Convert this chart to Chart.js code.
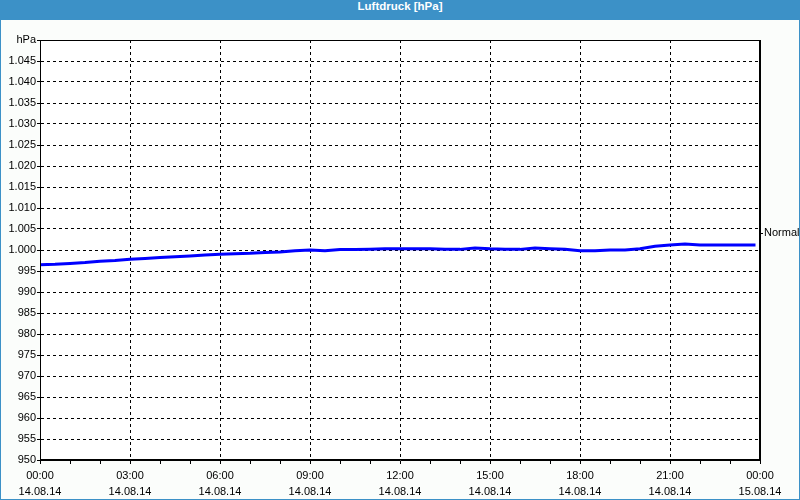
<!DOCTYPE html>
<html>
<head>
<meta charset="utf-8">
<script src="https://cdn.jsdelivr.net/npm/chart.js@4"></script>
<style>
  html, body { margin: 0; padding: 0; background: #fbfdfb; }
  #frame { position: relative; width: 798px; height: 479px; border: 1px solid #3c91c7; border-top: none; }
  #title { width: 800px; height: 20px; line-height: 20px; background: #3c91c7; color: #fff;
           font: bold 11.5px "Liberation Sans", sans-serif; text-align: center; }
  canvas { display: block; }
</style>
</head>
<body>
<div id="title">Luftdruck [hPa]</div>
<div id="frame"><canvas id="pressure-chart" width="798" height="479"></canvas></div>
<script>
// Luftdruck, 14.08.14 00:00 bis 15.08.14 00:00 (Stunden ab Mitternacht)
const hours = [0, 0.5, 1, 1.5, 2, 2.5, 3, 3.5, 4, 4.5, 5, 5.5, 6, 6.5, 7, 7.5, 8, 8.5, 9, 9.5,
    10, 10.5, 11, 11.5, 12, 12.5, 13, 13.5, 14, 14.5, 15, 15.5, 16, 16.5, 17, 17.5, 18, 18.5,
    19, 19.5, 20, 20.5, 21, 21.5, 22, 22.5, 23, 23.5, 23.85];
const pressure = [996.5, 996.6, 996.8, 997.0, 997.3, 997.5, 997.8, 998.0, 998.2, 998.4, 998.6, 998.8,
    999.0, 999.1, 999.2, 999.4, 999.5, 999.8, 1000.0, 999.8, 1000.1, 1000.1, 1000.2, 1000.3,
    1000.3, 1000.3, 1000.3, 1000.15, 1000.15, 1000.5, 1000.3, 1000.2, 1000.15, 1000.5, 1000.3, 1000.15,
    999.8, 999.8, 1000.0, 1000.0, 1000.3, 1000.9, 1001.2, 1001.4, 1001.2, 1001.2, 1001.2, 1001.2, 1001.2];

const timeLabels = ['00:00', '03:00', '06:00', '09:00', '12:00', '15:00', '18:00', '21:00', '00:00'];
const dateLabels = ['14.08.14', '14.08.14', '14.08.14', '14.08.14', '14.08.14', '14.08.14', '14.08.14', '14.08.14', '15.08.14'];
const normalValue = 1004;
const normalLabel = 'Normal';
const unitLabel = 'hPa';

const font = { family: '"Liberation Sans", sans-serif', size: 11 };

// white plot area and solid frame around it
const plotFrame = {
    id: 'plotFrame',
    beforeDraw(chart) {
        const a = chart.chartArea;
        const ctx = chart.ctx;
        ctx.save();
        ctx.fillStyle = '#ffffff';
        ctx.fillRect(a.left, a.top, a.right - a.left, a.bottom - a.top);
        ctx.restore();
    },
    afterDraw(chart) {
        const a = chart.chartArea;
        const ctx = chart.ctx;
        ctx.save();
        ctx.strokeStyle = '#000';
        ctx.lineWidth = 1;
        ctx.strokeRect(Math.round(a.left) + 0.5, Math.round(a.top) + 0.5,
            Math.round(a.right - a.left) - 1, Math.round(a.bottom - a.top) - 1);
        ctx.restore();
    }
};

function formatPressure(v) {
    if (v === 1050) return unitLabel;
    if (v >= 1000) return '1.' + String(v - 1000).padStart(3, '0');
    return String(v);
}

const chartContext = document.getElementById('pressure-chart').getContext('2d');

window.pressureChart = new Chart(chartContext, {
    type: 'line',
    data: {
        datasets: [{
            label: 'Luftdruck',
            data: hours.map((h, i) => ({ x: h, y: pressure[i] })),
            borderColor: '#0000ff',
            borderWidth: 3,
            pointRadius: 0,
            tension: 0,
            fill: false
        }]
    },
    options: {
        animation: false,
        responsive: false,
        layout: { padding: { top: 20, left: 0, right: 0, bottom: 0 } },
        plugins: { legend: { display: false }, tooltip: { enabled: false } },
        scales: {
            x: {
                type: 'linear',
                min: 0,
                max: 24,
                afterFit: scale => { scale.height = 39; },
                ticks: {
                    stepSize: 1,
                    autoSkip: false,
                    maxRotation: 0,
                    color: '#000',
                    padding: 4,
                    font: { ...font, lineHeight: 1.45 },
                    callback: v => v % 3 === 0 ? [timeLabels[v / 3], dateLabels[v / 3]] : ''
                },
                grid: {
                    color: ctx => (ctx.tick && ctx.tick.value % 3 === 0) ? '#000' : 'rgba(0,0,0,0)',
                    tickColor: '#000',
                    tickLength: 4
                },
                border: { display: true, color: '#000', dash: [3, 3] }
            },
            y: {
                min: 950,
                max: 1050,
                afterFit: scale => { scale.width = 39; },
                ticks: {
                    stepSize: 5,
                    color: '#000',
                    padding: 1,
                    font: font,
                    callback: v => formatPressure(v)
                },
                grid: { color: '#000', tickColor: '#000', tickLength: 3 },
                border: { display: true, color: '#000', dash: [3, 3] }
            },
            y2: {
                position: 'right',
                min: 950,
                max: 1050,
                afterFit: scale => { scale.width = 39; },
                afterBuildTicks: scale => { scale.ticks = [{ value: normalValue }]; },
                ticks: {
                    color: '#000',
                    padding: 1,
                    font: font,
                    callback: () => normalLabel
                },
                grid: { drawOnChartArea: false, tickColor: '#000', tickLength: 3 },
                border: { display: true, color: '#000' }
            }
        }
    },
    plugins: [plotFrame]
});
</script>
</body>
</html>
